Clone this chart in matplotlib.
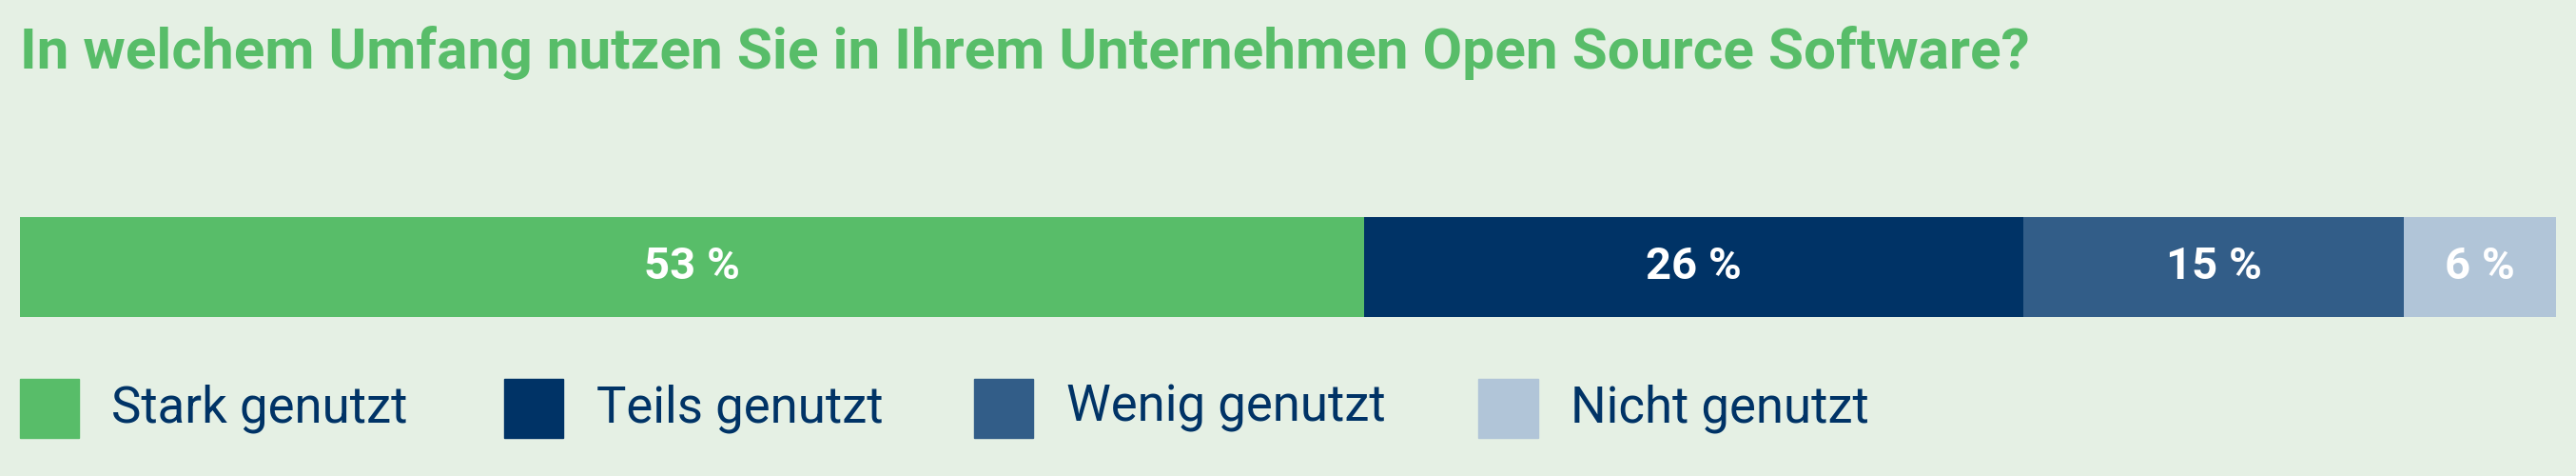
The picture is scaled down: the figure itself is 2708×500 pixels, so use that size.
import matplotlib.pyplot as plt

title = 'In welchem Umfang nutzen Sie in Ihrem Unternehmen Open Source Software?'
categories = ['Stark genutzt', 'Teils genutzt', 'Wenig genutzt', 'Nicht genutzt']
values = [53, 26, 15, 6]
colors = ['#58bd69', '#003366', '#325d88', '#b1c5d8']
bg = '#e5f0e4'

fig = plt.figure(figsize=(27.08, 5), dpi=100, facecolor=bg)
ax = fig.add_axes([0.0077, 0.334, 0.9845, 0.211])
ax.set_facecolor(bg)

left = 0
for v, c in zip(values, colors):
    ax.barh(0, v, left=left, color=c, height=1, edgecolor='none')
    ax.text(left + v / 2, 0, f'{v} %', ha='center', va='center', color='white',
            fontsize=34, fontweight='bold', family='Roboto')
    left += v
ax.set_xlim(0, sum(values))
ax.set_ylim(-0.5, 0.5)
ax.axis('off')

fig.text(0.0077, 0.89, title, color='#58bd69', fontsize=43.5, fontweight='bold',
         family='Roboto', va='center', ha='left')

# legend
sq_x = [12, 307, 593, 900]
for x, cat, c in zip(sq_x, categories, colors):
    fx = x / 1568
    fig.patches.append(plt.Rectangle((fx, 0.08), 36 / 1568, 0.125, color=c,
                                     transform=fig.transFigure))
    fig.text(fx + 56 / 1568, 0.142, cat, color='#003366', fontsize=38,
             family='Roboto', va='center', ha='left')

plt.savefig('out.png', facecolor=bg)
